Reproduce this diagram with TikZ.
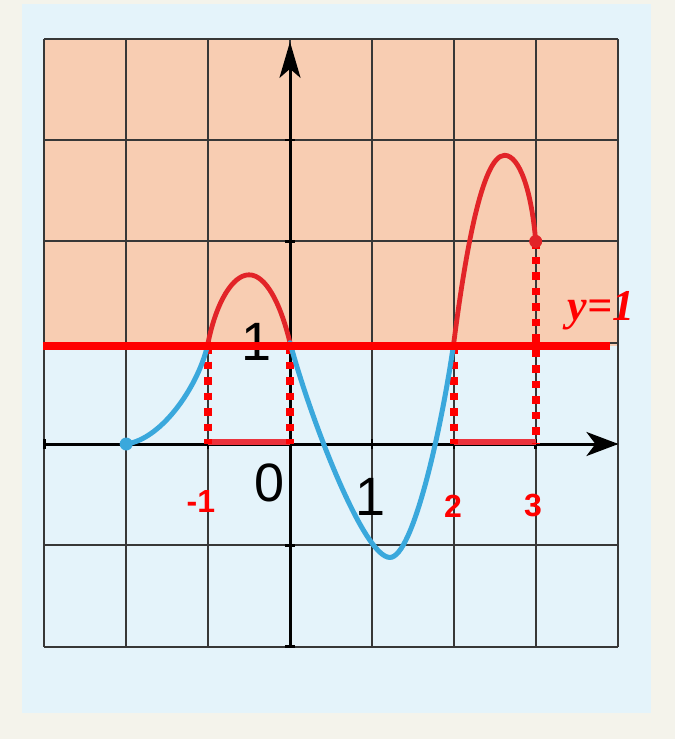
\documentclass[tikz,border=0pt]{standalone}
\usepackage{fontspec}
\setmainfont{Liberation Sans}
\newfontfamily\serifbi{Liberation Serif}
\usetikzlibrary{arrows.meta}
\definecolor{cream}{RGB}{244,243,235}
\definecolor{panel}{RGB}{228,243,250}
\definecolor{peach}{RGB}{248,205,178}
\definecolor{gridc}{RGB}{55,55,55}
\definecolor{curveblue}{RGB}{58,168,220}
\definecolor{curvered}{RGB}{226,36,40}
\definecolor{brightred}{RGB}{255,0,0}
\definecolor{axisred}{RGB}{235,50,60}
\begin{document}
\begin{tikzpicture}[x=81.9pt,y=101.3pt,
  gridline/.style={gridc,line width=2.2pt},
  axisline/.style={black,line width=3pt},
  tickline/.style={black,line width=2.6pt},
  bluecurve/.style={curveblue,line width=5pt,line cap=round},
  redcurve/.style={curvered,line width=4.8pt,line cap=round},
  dotline/.style={brightred,line width=8pt,dash pattern=on 7.5pt off 8pt},
  redseg/.style={axisred,line width=5.5pt},
  levelline/.style={brightred,line width=8.5pt},
  blacklbl/.style={inner sep=0pt,font=\fontsize{54}{54}\selectfont,text=black},
  redlbl/.style={inner sep=0pt,font=\fontsize{32}{32}\selectfont\bfseries,text=brightred},
  eqlbl/.style={inner sep=0pt,font=\fontsize{44}{44}\selectfont\serifbi\bfseries\itshape,text=brightred}]
% frame
\useasboundingbox (-3.5409,-2.9121) rectangle (4.7009,4.3830);
\fill[cream] (-3.5409,-2.9121) rectangle (4.7009,4.3830);
\fill[panel] (-3.272,-2.655) rectangle (4.408,4.343);
\fill[peach] (-3,0.967) rectangle (4,4);
% grid
\foreach \x in {-3,...,4} \draw[gridline] (\x,-2) -- (\x,4);
\foreach \y in {-2,...,4} \draw[gridline] (-3,\y) -- (4,\y);
% axes
\coordinate (xl) at (-3.016,0);
\coordinate (xr) at (4.01,0);
\coordinate (yb) at (0,-2);
\coordinate (yt) at (0,3.97);
\draw[axisline,-{Stealth[length=32pt,width=24pt,inset=9pt]}] (xl) -- (xr);
\draw[axisline,-{Stealth[length=36pt,width=21pt,inset=9pt]}] (yb) -- (yt);
\foreach \x in {-3,...,3} \draw[tickline] (\x,0) ++(0,-5pt) -- ++(0,10pt);
\foreach \y in {-2,-1,2,3} \draw[tickline] (0,\y) ++(-5pt,0) -- ++(10pt,0);
% labels under the level line
\node[blacklbl] (one) at (-0.403,1.007) {1};
\node[blacklbl] (zero) at (-0.256,-0.385) {0};
\node[blacklbl] (onex) at (0.977,-0.523) {1};
\node[redlbl] (mone) at (-1.087,-0.563) {-1};
\node[redlbl] (two) at (1.990,-0.612) {2};
\node[redlbl] (three) at (2.967,-0.612) {3};
% solution segments on x axis
\coordinate (a0) at (-1,0.02);
\coordinate (b0) at (0,0.02);
\coordinate (c0) at (2,0.02);
\coordinate (e0) at (3,0.02);
\draw[redseg] (a0) -- (b0);
\draw[redseg] (c0) -- (e0);
% dotted verticals
\coordinate (a1) at (-1,0.967);
\coordinate (b1) at (0,0.967);
\coordinate (c1) at (2,0.967);
\coordinate (E) at (3,2);
\draw[dotline] (a1) -- (-1,0);
\draw[dotline] (b1) -- (0,0);
\draw[dotline] (c1) -- (2,0);
\draw[dotline] (E) -- (3,0);
% curve
\coordinate (S) at (-2,0);
\coordinate (A) at (-1,1);
\coordinate (P1) at (-0.5,1.67);
\coordinate (B) at (0,1);
\coordinate (M) at (1.22,-1.12);
\coordinate (C) at (2,1);
\coordinate (P2) at (2.62,2.85);
\draw[bluecurve] (S) .. controls (-1.55,0.05) and (-1.1,0.6) .. (A);
\draw[redcurve] (A) .. controls (-0.9,1.4) and (-0.7,1.67) .. (P1)
  .. controls (-0.3,1.67) and (-0.12,1.4) .. (B);
\draw[bluecurve] (B) .. controls (0.25,0.25) and (0.9,-1.12) .. (M)
  .. controls (1.5,-1.12) and (1.85,0.15) .. (C);
\draw[redcurve] (C) .. controls (2.12,1.75) and (2.33,2.85) .. (P2)
  .. controls (2.8,2.85) and (2.95,2.5) .. (E);
\fill[curveblue] (S) circle[radius=6.5pt];
\fill[curvered] (E) circle[radius=6.5pt];
% level line y=1
\coordinate (Ll) at (-3.016,0.967);
\coordinate (Lr) at (3.907,0.967);
\draw[levelline] (Ll) -- (Lr);
\node[eqlbl,anchor=base] (eq) at (3.80,1.224) {y=1};
\end{tikzpicture}
\end{document}
